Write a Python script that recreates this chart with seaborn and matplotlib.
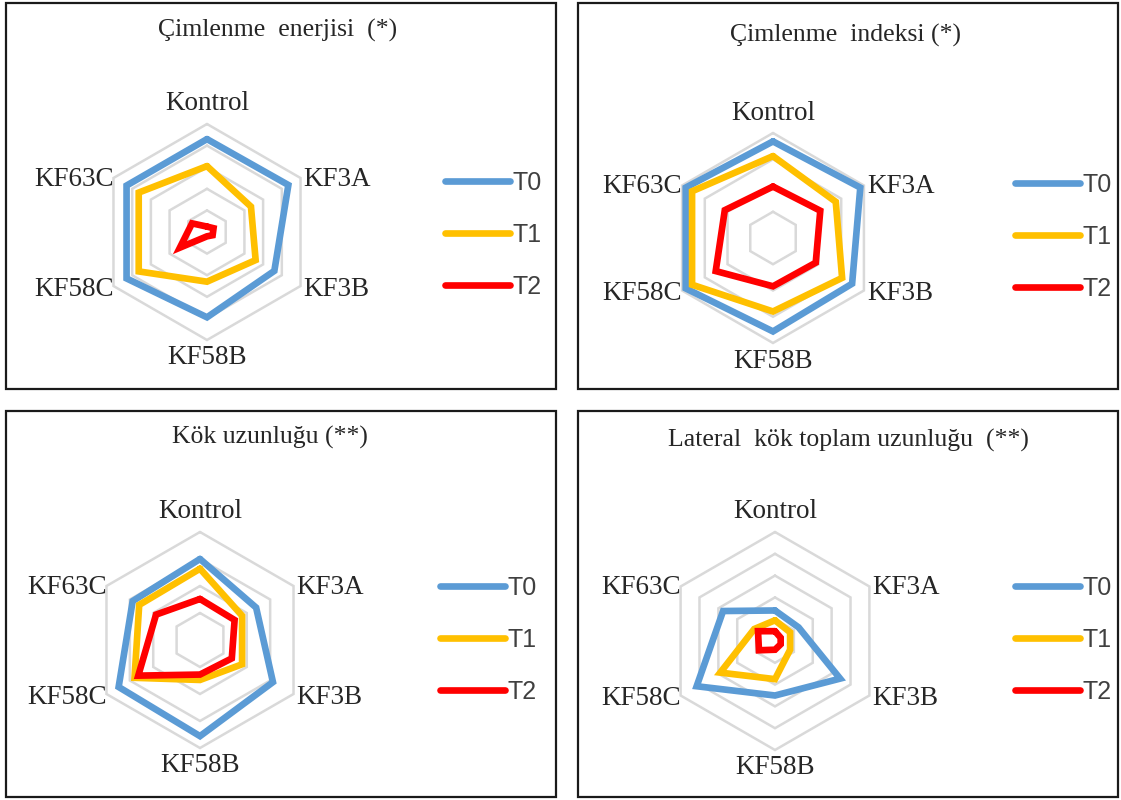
import numpy as np
import pandas as pd
import matplotlib
matplotlib.use("Agg")
import matplotlib.pyplot as plt
from matplotlib.patches import Rectangle
import seaborn as sns

# Radar axes (clockwise from the top)
categories = ["Kontrol", "KF3A", "KF3B", "KF58B", "KF58C", "KF63C"]
series = ["T0", "T1", "T2"]
titles = [
    "Çimlenme  enerjisi  (*)",
    "Çimlenme  indeksi (*)",
    "Kök uzunluğu (**)",
    "Lateral  kök toplam uzunluğu  (**)",
]

# Values scaled to a 0-100 radial axis
energy_t0 = [86, 87, 72, 79, 86, 86]
energy_t1 = [61, 47, 52, 46, 73, 73]
energy_t2 = [5, 7, 6, 4, 29, 16]

index_t0 = [92, 96, 87, 89, 96, 96]
index_t1 = [78, 69, 76, 70, 89, 89]
index_t2 = [49, 52, 47, 46, 63, 53]

root_t0 = [75, 60, 78, 89, 87, 72]
root_t1 = [66, 45, 45, 37, 70, 65]
root_t2 = [38, 37, 34, 32, 66, 47]

lateral_t0 = [28, 25, 69, 50, 83, 55]
lateral_t1 = [19, 16, 16, 35, 58, 22]
lateral_t2 = [9, 6, 6, 8, 17, 18]

ring_steps = [20, 25, 25, 20]

palette = {"T0": "#5B9BD5", "T1": "#FFC000", "T2": "#FF0000"}
GRID = "#D9D9D9"
TEXT = "#262626"

W, H = 1121, 800
sns.set_theme(style="white")
plt.rcParams["font.family"] = ["Liberation Serif", "DejaVu Serif"]

fig = plt.figure(figsize=(W / 100, H / 100), dpi=100)
fig.patch.set_facecolor("white")

# Panel layout in pixels: radar centre, radius, frame box, title and legend anchors
layout = [
    dict(center=(207, 232), radius=108, box=(6, 3, 556, 389), title=(278, 30), legend=(445, 235)),
    dict(center=(773, 238), radius=105, box=(578, 3, 1118, 389), title=(845, 35), legend=(1015, 237)),
    dict(center=(200, 640), radius=108, box=(6, 411, 556, 797), title=(270, 437), legend=(440, 640)),
    dict(center=(775, 641), radius=109, box=(578, 411, 1118, 797), title=(848, 440), legend=(1015, 640)),
]
panel_values = [
    (energy_t0, energy_t1, energy_t2),
    (index_t0, index_t1, index_t2),
    (root_t0, root_t1, root_t2),
    (lateral_t0, lateral_t1, lateral_t2),
]

angles = np.linspace(0, 2 * np.pi, len(categories), endpoint=False)
closed_angles = np.append(angles, angles[0])

# label alignment per category: (dx px, dy px, ha)
label_pos = {
    "Kontrol": (0, 20, "center"),
    "KF3A": (3, -1, "left"),
    "KF3B": (3, -3, "left"),
    "KF58B": (0, -18, "center"),
    "KF58C": (0, -3, "right"),
    "KF63C": (0, -1, "right"),
}

for title, vals, step, lay in zip(titles, panel_values, ring_steps, layout):
    x0, y0, x1, y1 = lay["box"]
    fig.add_artist(Rectangle((x0 / W, 1 - y1 / H), (x1 - x0) / W, (y1 - y0) / H,
                             transform=fig.transFigure, fill=False,
                             edgecolor="#1a1a1a", linewidth=1.6))
    fig.text(lay["title"][0] / W, 1 - lay["title"][1] / H, title,
             ha="center", va="center", fontsize=18.5, color=TEXT)

    cx, cy = lay["center"]
    r = lay["radius"]
    ax = fig.add_axes([(cx - r) / W, 1 - (cy + r) / H, 2 * r / W, 2 * r / H],
                      projection="polar")
    ax.set_theta_zero_location("N")
    ax.set_theta_direction(-1)
    ax.patch.set_alpha(0)

    # hexagonal gridlines
    for level in np.arange(step, 100 + 0.1, step):
        ax.plot(closed_angles, [level] * len(closed_angles), color=GRID,
                lw=1.8, zorder=1, clip_on=False)

    rows = []
    for name, v in zip(series, vals):
        closed = list(v) + [v[0]]
        for th, val in zip(closed_angles, closed):
            rows.append({"theta": th, "value": val, "series": name})
    df = pd.DataFrame(rows)

    sns.lineplot(data=df, x="theta", y="value", hue="series", palette=palette,
                 sort=False, estimator=None, linewidth=4.8, ax=ax, zorder=3)
    for ln in ax.lines:
        ln.set_clip_on(False)
        ln.set_solid_joinstyle("miter")

    ax.set_ylim(0, 100)
    ax.set_xticks([])
    ax.set_yticks([])
    ax.grid(False)
    ax.spines["polar"].set_visible(False)
    ax.set_xlabel("")
    ax.set_ylabel("")

    for th, cat in zip(angles, categories):
        dx, dy, ha = label_pos[cat]
        ax.annotate(cat, xy=(th, 100), xytext=(dx, dy), textcoords="offset pixels",
                    ha=ha, va="center", fontsize=19.5, color=TEXT, annotation_clip=False)

    lx, ly = lay["legend"]
    sns.move_legend(ax, loc="center left", bbox_to_anchor=(lx / W, 1 - ly / H),
                    bbox_transform=fig.transFigure, frameon=False, title=None,
                    borderpad=0, borderaxespad=0, handlelength=2.6,
                    handletextpad=0.1, labelspacing=1.12,
                    prop={"family": ["Liberation Sans"], "size": 18})
    leg = ax.get_legend()
    for h in leg.get_lines():
        h.set_linewidth(4.8)
    for t in leg.get_texts():
        t.set_color("#404040")

fig.savefig("out.png", dpi=100, facecolor="white")
